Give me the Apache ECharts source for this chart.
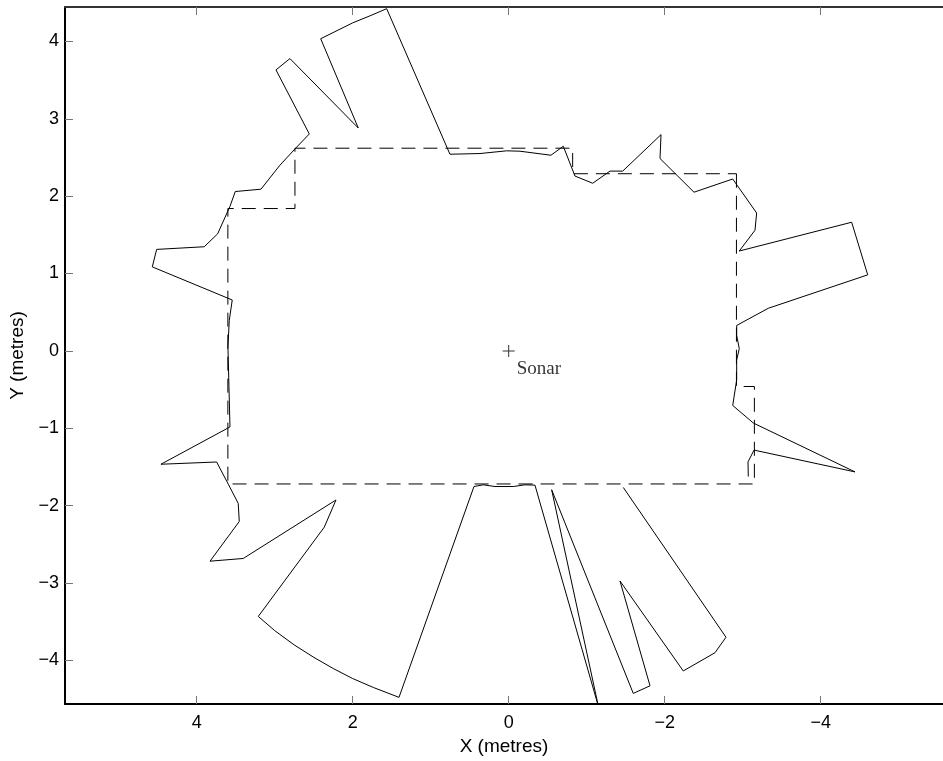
<!DOCTYPE html>
<html>
<head>
<meta charset="utf-8">
<script src="https://cdn.jsdelivr.net/npm/echarts@6/dist/echarts.min.js"></script>
<style>
  html, body { margin: 0; padding: 0; background: #fff; }
  #chart { width: 943px; height: 761px; }
</style>
</head>
<body>
<div id="chart"></div>
<script>
// Sonar scan (solid line), in metres
var scanX = [-1.469, -2.786, -2.645, -2.238, -1.427, -1.812, -1.597, -0.551, -1.149, -0.337,
  -0.209, -0.059, 0.176, 0.326, 0.445,
  1.406, 1.736, 2.000, 2.250, 2.500, 2.750, 3.000, 3.210,
  2.364, 2.214, 3.403, 3.829, 3.454, 3.467, 3.595, 3.744, 4.458, 3.573,
  3.586, 3.599, 3.582, 3.544, 4.569, 4.513, 3.903, 3.731, 3.573, 3.505,
  3.176, 2.932, 2.727, 2.556, 2.983, 2.804, 1.928,
  2.410, 2.200, 2.000, 1.780, 1.564,
  0.753, 0.368, 0.026, -0.145, -0.542, -0.700, -0.850, -1.077, -1.299, -1.462,
  -1.953, -1.940, -2.376, -2.872, -3.179, -3.158, -2.956, -4.397, -4.603, -3.328,
  -2.923, -2.923, -2.956, -2.923, -2.923, -2.872, -3.136, -4.440, -3.145, -3.068,
  -3.072];
var scanY = [-1.765, -3.701, -3.901, -4.137, -2.974, -4.329, -4.427, -1.795, -4.590, -1.735,
  -1.731, -1.753, -1.753, -1.731, -1.753,
  -4.478, -4.350, -4.235, -4.105, -3.960, -3.800, -3.615, -3.432,
  -2.278, -1.927, -2.683, -2.718, -2.205, -1.971, -1.722, -1.436, -1.465, -0.983,
  -0.462, 0.051, 0.394, 0.658, 1.086, 1.312, 1.346, 1.513, 1.868, 2.060,
  2.090, 2.401, 2.624, 2.804, 3.632, 3.778, 2.881,
  4.035, 4.140, 4.240, 4.330, 4.423,
  2.542, 2.551, 2.586, 2.581, 2.529, 2.645, 2.260, 2.167, 2.324, 2.324,
  2.795, 2.487, 2.051, 2.222, 1.782, 1.560, 1.291, 1.663, 0.983, 0.551,
  0.329, 0.201, 0.029, -0.119, -0.376, -0.705, -0.932, -1.564, -1.282, -1.436,
  -1.624];

// Room map (dashed line), in metres
var roomX = [-2.92, -2.92, -3.15, -3.15, 3.60, 3.60, 2.74, 2.74, -0.82, -0.82, -2.92];
var roomY = [2.29, -0.46, -0.46, -1.72, -1.72, 1.84, 1.84, 2.62, 2.62, 2.29, 2.29];

// Sonar position
var sonarPos = [0, 0];
var sonarLabel = 'Sonar';

// Ticks
var xTicks = [-4, -2, 0, 2, 4];
var yTicks = [-4, -3, -2, -1, 0, 1, 2, 3, 4];

// Axis limits (metres)
var xMin = -5.568, xMax = 5.688;
var yMin = -4.564, yMax = 4.445;

function pairs(xs, ys) {
  var out = [];
  for (var i = 0; i < xs.length; i++) out.push([xs[i], ys[i]]);
  return out;
}
function fmt(v) { return v < 0 ? '\u2212' + Math.abs(v) : String(v); }

var chart = echarts.init(document.getElementById('chart'), null, { renderer: 'canvas' });
var fontSans = '"Liberation Sans", Arial, Helvetica, sans-serif';

chart.setOption({
  animation: false,
  backgroundColor: '#ffffff',
  grid: { left: 65, right: 0, top: 7, bottom: 51, containLabel: false },
  xAxis: [{
    type: 'value', position: 'bottom', inverse: true, min: xMin, max: xMax,
    name: 'X (metres)', nameLocation: 'middle', nameGap: 33,
    nameTextStyle: { fontFamily: fontSans, fontSize: 19, color: '#000' },
    axisLine: { show: true, onZero: false, lineStyle: { color: '#000', width: 2 } },
    axisTick: { show: true, inside: true, length: 8, customValues: xTicks, lineStyle: { color: '#777', width: 1 } },
    axisLabel: { show: true, customValues: xTicks, formatter: fmt, margin: 10, fontFamily: fontSans, fontSize: 18, color: '#000' },
    splitLine: { show: false }
  }, {
    type: 'value', position: 'top', inverse: true, min: xMin, max: xMax,
    axisLine: { show: true, onZero: false, lineStyle: { color: '#333', width: 2 } },
    axisTick: { show: true, inside: true, length: 8, customValues: xTicks, lineStyle: { color: '#777', width: 1 } },
    axisLabel: { show: false },
    splitLine: { show: false }
  }],
  yAxis: [{
    type: 'value', position: 'left', min: yMin, max: yMax,
    name: 'Y (metres)', nameLocation: 'middle', nameGap: 28,
    nameTextStyle: { fontFamily: fontSans, fontSize: 19, color: '#000' },
    axisLine: { show: true, onZero: false, lineStyle: { color: '#000', width: 2 } },
    axisTick: { show: true, inside: true, length: 8, customValues: yTicks, lineStyle: { color: '#777', width: 1 } },
    axisLabel: { show: true, customValues: yTicks, formatter: fmt, margin: 6, fontFamily: fontSans, fontSize: 18, color: '#000' },
    splitLine: { show: false }
  }],
  series: [{
    type: 'line', name: 'room', data: pairs(roomX, roomY),
    showSymbol: false, symbol: 'none', clip: true,
    lineStyle: { color: '#000', width: 1, type: [14, 8] },
    z: 2
  }, {
    type: 'line', name: 'scan', data: pairs(scanX, scanY),
    showSymbol: false, symbol: 'none', clip: true,
    lineStyle: { color: '#000', width: 1 },
    z: 3
  }, {
    type: 'scatter', name: 'sonar', data: [sonarPos],
    symbol: 'path://M0,5.5H12V6.5H0ZM5.5,0H6.5V12H5.5Z', symbolSize: 12,
    itemStyle: { color: '#000' },
    label: {
      show: true, formatter: sonarLabel, position: 'right', distance: 2, offset: [0, 18],
      fontFamily: '"Liberation Serif", "Times New Roman", serif', fontSize: 19, color: '#000'
    },
    z: 4
  }]
});
</script>
</body>
</html>
